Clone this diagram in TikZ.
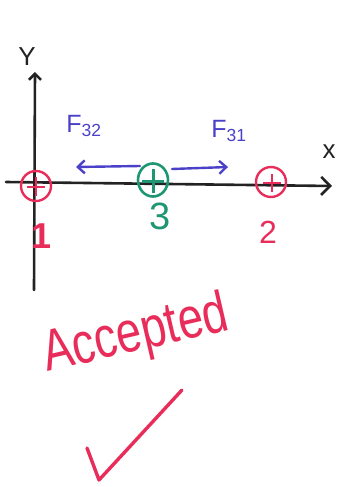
\documentclass[tikz,border=0pt]{standalone}
\usepackage{fontspec}
\setmainfont{Liberation Sans}
\usetikzlibrary{arrows.meta,shapes.geometric}
\definecolor{pred}{RGB}{232,45,90}
\definecolor{pgreen}{RGB}{30,150,115}
\definecolor{pblue}{RGB}{75,65,200}
\definecolor{pink}{RGB}{35,35,35}
\tikzset{
  axisline/.style={draw=pink, line width=2.6pt, line cap=round},
  charge/.style={circle, line width=2.4pt, minimum size=30pt, inner sep=0pt},
  force/.style={draw=pblue, line width=2.4pt, line cap=round, -{Straight Barb[length=7pt,width=13pt]}},
  lbl/.style={font=\fontsize{26}{28}\selectfont}
}
\begin{document}
\begin{tikzpicture}[x=1pt,y=-1pt]
\useasboundingbox (0,0) rectangle (340,487);
% axes
\coordinate (xl) at (6,182);
\coordinate (xr) at (332,186);
\coordinate (yb) at (34,290);
\coordinate (yt) at (35,72);
\draw[axisline, -{Straight Barb[length=9pt,width=18pt]}] (xl) -- (xr);
\draw[axisline, -{Straight Barb[length=6pt,width=12pt]}] (yb) -- (yt);
\node[lbl, text=pink] (ylab) at (27,57) {Y};
\node[lbl, text=pink] (xlab) at (329,152) {x};
% charges
\node[charge, draw=pred] (q1) at (36,186) {};
\draw[pred, line width=2.2pt] (36,177) -- (36,196) (27,187) -- (45,187);
\node[ellipse, line width=2.6pt, inner sep=0pt, draw=pgreen, minimum width=30pt, minimum height=33pt] (q3) at (153,180) {};
\draw[pgreen, line width=3pt] (153,169) -- (153,193) (142,181) -- (164,181);
\node[charge, draw=pred] (q2) at (271,182) {};
\draw[pred, line width=2.2pt] (272,174) -- (272,192) (263,183) -- (281,183);
% labels
\node[text=pred, font=\bfseries\fontsize{36}{38}\selectfont] (l1) at (42,236) {1};
\node[text=pgreen, font=\fontsize{38}{40}\selectfont] (l3) at (160,216) {3};
\node[text=pred, font=\fontsize{32}{34}\selectfont] (l2) at (268,232) {2};
% forces
\coordinate (f32s) at (140,166);
\coordinate (f32e) at (76,167);
\coordinate (f31s) at (172,169);
\coordinate (f31e) at (228,167);
\draw[force] (f32s) -- (f32e);
\draw[force] (f31s) -- (f31e);
\node[text=pblue, font=\fontsize{25}{27}\selectfont] (F32) at (84,126) {F\textsubscript{32}};
\node[text=pblue, font=\fontsize{25}{27}\selectfont] (F31) at (229,131) {F\textsubscript{31}};
% accepted
\node[text=pred, rotate=13, xscale=0.78, font=\fontsize{58}{62}\selectfont] (acc) at (136,336) {Accepted};
% check mark
\coordinate (c1) at (87,448);
\coordinate (c2) at (99,480);
\coordinate (c3) at (182,390);
\draw[pred, line width=3.4pt, line cap=round, line join=round] (c1) -- (c2) -- (c3);
\end{tikzpicture}
\end{document}
